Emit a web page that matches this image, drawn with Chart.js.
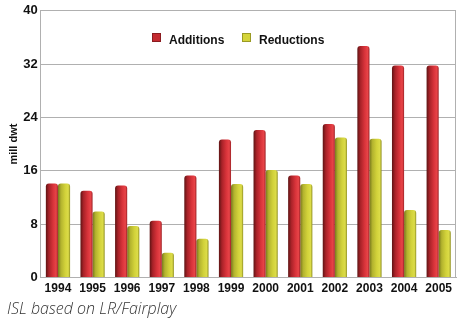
<!DOCTYPE html>
<html>
<head>
<meta charset="utf-8">
<script src="https://cdn.jsdelivr.net/npm/chart.js@4"></script>
<style>
    html, body { margin: 0; padding: 0; background: #fff; }
    #wrap { position: relative; width: 461px; height: 322px; }
</style>
</head>
<body>
<div id="wrap"><canvas id="chart"></canvas></div>
<script>
const years = ['1994', '1995', '1996', '1997', '1998', '1999', '2000', '2001', '2002', '2003', '2004', '2005'];
const additions = [14.1, 13.0, 13.8, 8.5, 15.3, 20.7, 22.1, 15.3, 23.0, 34.7, 31.8, 31.8];
const reductions = [14.1, 9.9, 7.7, 3.7, 5.8, 14.0, 16.1, 14.0, 21.0, 20.8, 10.1, 7.1];
const yTicks = [0, 8, 16, 24, 32, 40];

const catPct = 0.7;

// horizontal gradient across each bar so it looks like a cylinder
function barGradient(dsIndex, stops, fallback) {
    return function (ctx) {
        const chart = ctx.chart;
        const xScale = chart.scales.x;
        if (!chart.chartArea || !xScale || ctx.dataIndex === undefined) return fallback;
        const center = xScale.getPixelForValue(ctx.dataIndex);
        const half = (xScale.width / years.length) * catPct / 2;
        const left = dsIndex === 0 ? center - half : center;
        const right = dsIndex === 0 ? center : center + half;
        const g = chart.ctx.createLinearGradient(left, 0, right, 0);
        stops.forEach(s => g.addColorStop(s[0], s[1]));
        return g;
    };
}

const redStops = [[0, '#5e1414'], [0.25, '#a82228'], [0.6, '#d8333a'], [0.85, '#e84448'], [1, '#9c2025']];
const yellowStops = [[0, '#77771c'], [0.25, '#b3b32e'], [0.6, '#d2d23a'], [0.85, '#dcdc48'], [1, '#8f8f22']];

// legend drawn inside the plot area
const innerLegend = {
    id: 'innerLegend',
    afterDraw(chart) {
        const c = chart.ctx;
        const items = [
            {x: 152, text: 'Additions', color: '#c42a30', edge: '#8a1c20'},
            {x: 242, text: 'Reductions', color: '#d4d43a', edge: '#9a9a24'}
        ];
        c.save();
        c.font = 'bold 12px "Liberation Sans", Arial, sans-serif';
        c.textBaseline = 'middle';
        items.forEach(it => {
            c.fillStyle = it.color;
            c.fillRect(it.x, 33, 9, 9);
            c.strokeStyle = it.edge;
            c.lineWidth = 1;
            c.strokeRect(it.x + 0.5, 33.5, 8, 8);
            c.fillStyle = '#111';
            c.fillText(it.text, it.x + 17, 41);
        });
        c.restore();
    }
};

new Chart(document.getElementById('chart'), {
    type: 'bar',
    data: {
        labels: years,
        datasets: [
            {
                label: 'Additions',
                data: additions,
                backgroundColor: barGradient(0, redStops, '#c42a30'),
                borderRadius: {topLeft: 3, topRight: 3},
                borderSkipped: 'bottom',
                categoryPercentage: catPct,
                barPercentage: 1.0
            },
            {
                label: 'Reductions',
                data: reductions,
                backgroundColor: barGradient(1, yellowStops, '#d4d43a'),
                borderRadius: {topLeft: 3, topRight: 3},
                borderSkipped: 'bottom',
                categoryPercentage: catPct,
                barPercentage: 1.0
            }
        ]
    },
    options: {
        responsive: true,
        maintainAspectRatio: false,
        animation: false,
        layout: {padding: {left: 7, right: 5, top: -5, bottom: 0}},
        plugins: {
            legend: {display: false},
            tooltip: {enabled: false},
            title: {
                display: true,
                text: 'ISL based on LR/Fairplay',
                position: 'bottom',
                align: 'start',
                color: '#333',
                font: {family: '"Open Sans", "DejaVu Sans", sans-serif', size: 16, style: 'italic', weight: '300'},
                padding: {top: 0, bottom: 3}
            }
        },
        scales: {
            x: {
                grid: {display: false, drawTicks: false},
                border: {display: true, color: '#b0b0b0'},
                ticks: {
                    color: '#111',
                    padding: 4,
                    font: {family: '"Liberation Sans", Arial, sans-serif', size: 12, weight: 'bold'}
                }
            },
            y: {
                min: 0,
                max: 40,
                afterBuildTicks: axis => { axis.ticks = yTicks.map(v => ({value: v})); },
                grid: {color: '#b0b0b0', drawTicks: false},
                border: {display: true, color: '#b0b0b0'},
                ticks: {
                    color: '#111',
                    padding: 3,
                    font: {family: '"Liberation Sans", Arial, sans-serif', size: 13, weight: 'bold'}
                },
                title: {
                    display: true,
                    text: 'mill dwt',
                    color: '#111',
                    padding: {top: 0, bottom: 0},
                    font: {family: '"Liberation Sans", Arial, sans-serif', size: 11, weight: 'bold'}
                }
            }
        }
    },
    plugins: [innerLegend, {
        id: 'rightBorder',
        afterDraw(chart) {
            const a = chart.chartArea, c = chart.ctx;
            c.save();
            c.strokeStyle = '#b0b0b0';
            c.lineWidth = 1;
            c.beginPath();
            c.moveTo(a.right - 0.5, a.top);
            c.lineTo(a.right - 0.5, a.bottom);
            c.stroke();
            c.restore();
        }
    }]
});
</script>
</body>
</html>
